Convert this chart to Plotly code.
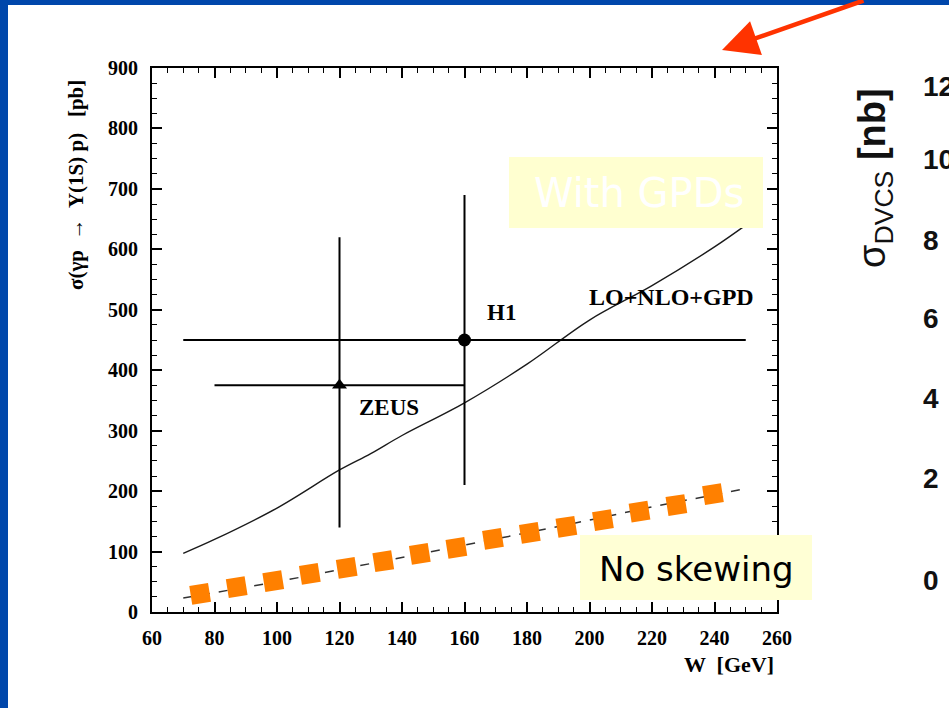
import plotly.graph_objects as go

# ---------------- data ----------------
# LO+NLO+GPD curve
w_gpd = [70, 80, 100, 120, 130, 140, 160, 180, 200, 220, 240, 250]
s_gpd = [97, 120, 172, 235, 262, 292, 346, 410, 483, 540, 604, 640]

# dashed line (no skewing)
w_noskew = [70, 100, 120, 140, 160, 180, 200, 220, 250]
s_noskew = [23, 50, 70, 90, 110, 131, 152, 174, 204]

# orange squares (no skewing highlight)
w_sq = [75.4, 87.1, 98.8, 110.5, 122.3, 134.0, 145.7, 157.4, 169.1, 180.9, 192.6, 204.3, 216.0, 227.8, 239.5]
s_sq = [30, 41, 51, 63, 73, 84, 96, 106, 121, 131, 141, 152, 166, 177, 195]

# data points
zeus_w, zeus_s = [120], [375]
zeus_wlo, zeus_whi = [40], [40]
zeus_slo, zeus_shi = [235], [245]

h1_w, h1_s = [160], [450]
h1_wlo, h1_whi = [90], [90]
h1_slo, h1_shi = [240], [240]

x_ticks = [60, 80, 100, 120, 140, 160, 180, 200, 220, 240, 260]
y_ticks = [0, 100, 200, 300, 400, 500, 600, 700, 800, 900]

right_labels = ["12", "10", "8", "6", "4", "2", "0"]

# ---------------- layout geometry (pixels) ----------------
W, H = 949, 708
L, R, T, B = 152, 777, 68, 612
PW, PH = R - L, B - T


def px(x):
    return (x - L) / PW


def py(y):
    return (B - y) / PH


right_label_y = [86, 160, 240, 318, 398, 478, 580]

serif = "Liberation Serif"
black = "#000000"

fig = go.Figure()

fig.add_trace(go.Scatter(
    x=w_gpd, y=s_gpd, mode="lines",
    line=dict(color="#1a1a1a", width=1.4, shape="spline"),
    hoverinfo="skip", showlegend=False))

fig.add_trace(go.Scatter(
    x=w_noskew, y=s_noskew, mode="lines",
    line=dict(color="#333333", width=1.5, dash="dash"),
    hoverinfo="skip", showlegend=False))

fig.add_trace(go.Scatter(
    x=w_sq, y=s_sq, mode="markers",
    marker=dict(symbol="square", size=19, color="#FF8000", angle=-9,
                line=dict(width=0)),
    hoverinfo="skip", showlegend=False))

fig.add_trace(go.Scatter(
    x=zeus_w, y=zeus_s, mode="markers",
    marker=dict(symbol="triangle-up", size=13, color=black),
    error_x=dict(type="data", symmetric=False, array=zeus_whi, arrayminus=zeus_wlo,
                 width=0, thickness=2, color=black),
    error_y=dict(type="data", symmetric=False, array=zeus_shi, arrayminus=zeus_slo,
                 width=0, thickness=2, color=black),
    hoverinfo="skip", showlegend=False))

fig.add_trace(go.Scatter(
    x=h1_w, y=h1_s, mode="markers",
    marker=dict(symbol="circle", size=13, color=black),
    error_x=dict(type="data", symmetric=False, array=h1_whi, arrayminus=h1_wlo,
                 width=0, thickness=2, color=black),
    error_y=dict(type="data", symmetric=False, array=h1_shi, arrayminus=h1_slo,
                 width=0, thickness=2, color=black),
    hoverinfo="skip", showlegend=False))

axis_common = dict(
    showgrid=False, zeroline=False, showline=True, linecolor=black, linewidth=2,
    mirror="allticks", ticks="inside", tickcolor=black, tickwidth=1.5, ticklen=10,
    tickfont=dict(family=serif, size=20, color=black, weight="bold"),
)

fig.update_xaxes(range=[60, 260], tickvals=x_ticks, ticklabelstandoff=7,
                 minor=dict(dtick=5, ticks="inside", ticklen=5, tickwidth=1, tickcolor=black),
                 **axis_common)
fig.update_yaxes(range=[0, 900], tickvals=y_ticks, ticklabelstandoff=8,
                 minor=dict(dtick=25, ticks="inside", ticklen=5, tickwidth=1, tickcolor=black),
                 **axis_common)

shapes = [
    # slide blue border
    dict(type="rect", xref="paper", yref="paper", x0=px(-5), x1=px(8), y0=py(715), y1=py(-5),
         fillcolor="#0047AB", line=dict(width=0), layer="above"),
    dict(type="rect", xref="paper", yref="paper", x0=px(-5), x1=px(955), y0=py(5), y1=py(-5),
         fillcolor="#0047AB", line=dict(width=0), layer="above"),
    # highlight boxes
    dict(type="rect", xref="paper", yref="paper", x0=px(509), x1=px(763), y0=py(228), y1=py(157),
         fillcolor="#FFFFD0", line=dict(width=0), layer="above"),
    dict(type="rect", xref="paper", yref="paper", x0=px(580), x1=px(812), y0=py(600), y1=py(535),
         fillcolor="#FFFFD5", line=dict(width=0), layer="above"),
]

annotations = [
    dict(x=166.5, y=495, xref="x", yref="y", text="<b>H1</b>", showarrow=False,
         xanchor="left", yanchor="middle", font=dict(family=serif, size=23, color=black)),
    dict(x=125.6, y=339, xref="x", yref="y", text="<b>ZEUS</b>", showarrow=False,
         xanchor="left", yanchor="middle", font=dict(family=serif, size=23, color=black)),
    dict(x=253.3, y=521, xref="x", yref="y", text="<b>LO+NLO+GPD</b>", showarrow=False,
         xanchor="right", yanchor="middle", font=dict(family=serif, size=24, color=black)),
    dict(x=px(76), y=py(185), xref="paper", yref="paper",
         text="<b>σ(γp  →  Υ(1S) p)   [pb]</b>", textangle=-90, showarrow=False,
         xanchor="center", yanchor="middle", font=dict(family=serif, size=21, color=black)),
    dict(x=px(776), y=py(664), xref="paper", yref="paper", text="<b>W  [GeV]</b>",
         showarrow=False, xanchor="right", yanchor="middle",
         font=dict(family=serif, size=22, color=black)),
    dict(x=px(639), y=py(193), xref="paper", yref="paper", text="With GPDs",
         showarrow=False, xanchor="center", yanchor="middle",
         font=dict(family="DejaVu Sans", size=40, color="#FFFFFF")),
    dict(x=px(696), y=py(569), xref="paper", yref="paper", text="No skewing",
         showarrow=False, xanchor="center", yanchor="middle",
         font=dict(family="DejaVu Sans", size=34, color="#000000")),
    dict(x=px(875), y=py(178), xref="paper", yref="paper",
         text="σ<sub>DVCS</sub> <b>[nb]</b>", textangle=-90, showarrow=False,
         xanchor="center", yanchor="middle",
         font=dict(family="Liberation Sans", size=38, color="#111111")),
    # red arrow
    dict(x=px(722), y=py(50), xref="paper", yref="paper", text="",
         ax=143, ay=-55, axref="pixel", ayref="pixel", showarrow=True,
         arrowhead=2, arrowsize=1.6, arrowwidth=4.5, arrowcolor="#FF3300"),
]

for lab, yy in zip(right_labels, right_label_y):
    annotations.append(dict(x=px(921), y=py(yy), xref="paper", yref="paper",
                            text="<b>" + lab + "</b>",
                            showarrow=False, xanchor="left", yanchor="middle",
                            font=dict(family="Liberation Sans", size=28, color="#111111")))

fig.update_layout(
    width=W, height=H,
    margin=dict(l=L, r=W - R, t=T, b=H - B, pad=0),
    paper_bgcolor="white", plot_bgcolor="white",
    shapes=shapes, annotations=annotations,
    showlegend=False, hovermode=False,
)

fig.write_html("out.html", config={"displayModeBar": False})
